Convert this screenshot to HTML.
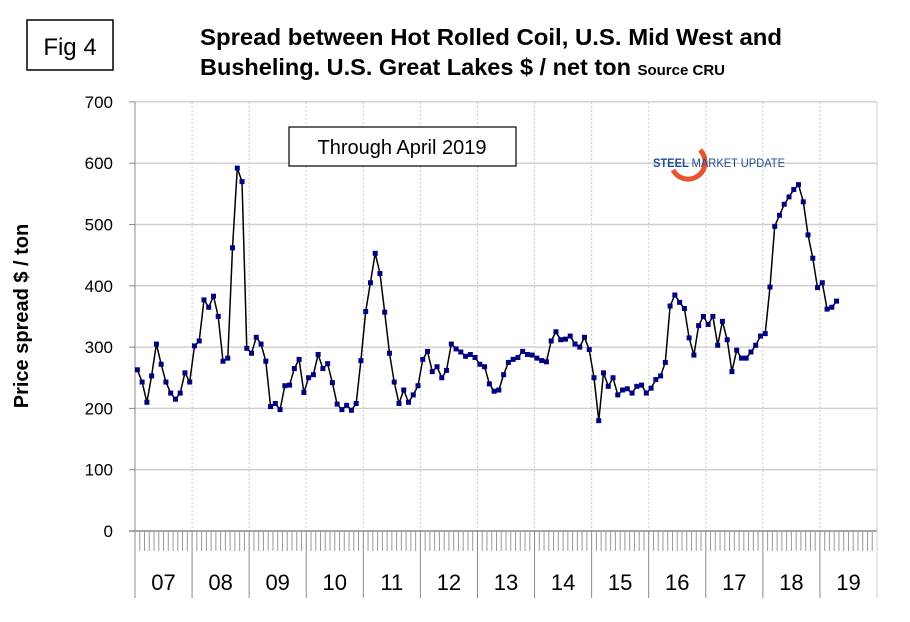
<!DOCTYPE html>
<html><head><style>
body{margin:0;background:#fff;}
svg{display:block;font-family:"Liberation Sans",Arial,sans-serif;}
</style></head><body>
<svg width="910" height="622" viewBox="0 0 910 622">
<rect width="910" height="622" fill="#fff"/>
<rect x="27" y="20" width="86" height="50" fill="#fff" stroke="#000" stroke-width="1.5"/>
<text x="70" y="55" font-size="24" text-anchor="middle">Fig 4</text>
<text x="491" y="45" font-size="23.5" font-weight="bold" text-anchor="middle" textLength="582" lengthAdjust="spacingAndGlyphs">Spread between Hot Rolled Coil, U.S. Mid West and</text>
<text x="200" y="75" font-size="23.5" font-weight="bold">Busheling. U.S. Great Lakes  $ / net ton <tspan font-size="15">Source CRU</tspan></text>
<g id="grid"></g>
<g id="axes"></g>
<text x="28" y="316" font-size="20" font-weight="bold" text-anchor="middle" transform="rotate(-90 28 316)">Price spread $ / ton</text>
<rect x="289" y="127" width="227" height="39" fill="#fff" stroke="#000" stroke-width="1.2"/>
<text x="402" y="154" font-size="20" text-anchor="middle">Through April 2019</text>
<path d="M673 170 A17 17 0 1 0 700 150" fill="none" stroke="#e4572e" stroke-width="5"/>
<text x="653" y="167" font-size="12" font-weight="bold" fill="#1f4e8c" textLength="132" lengthAdjust="spacingAndGlyphs">STEEL <tspan font-weight="normal">MARKET UPDATE</tspan></text>
<g id="series"></g>
<script>
var ns="http://www.w3.org/2000/svg";
function el(p,t,a,txt){var e=document.createElementNS(ns,t);for(var k in a)e.setAttribute(k,a[k]);if(txt!=null)e.textContent=txt;document.getElementById(p).appendChild(e);return e;}
var x0=135,x1=877,yb=531,k=0.613,yw=(x1-x0)/13;
for(var v=0;v<=700;v+=100){var y=yb-v*k;
 if(v>0)el("grid","line",{x1:x0,x2:x1,y1:y,y2:y,stroke:"#d0d0d0","stroke-width":1.5});
 el("axes","line",{x1:x0-6,x2:x0,y1:y,y2:y,stroke:"#888"});
 el("axes","text",{x:x0-22,y:y+6,"font-size":17,"text-anchor":"end"},v);}
for(var i=1;i<13;i++){var x=x0+i*yw;el("grid","line",{x1:x,x2:x,y1:102,y2:yb,stroke:"#ccc","stroke-dasharray":"2,2"});}
el("axes","line",{x1:x0,x2:x0,y1:102,y2:598,stroke:"#888","stroke-width":1});
el("axes","line",{x1:x0-6,x2:x1,y1:yb,y2:yb,stroke:"#888","stroke-width":1.5});
el("axes","line",{x1:x1,x2:x1,y1:102,y2:598,stroke:"#ccc"});
for(var m=1;m<156;m++){var x=x0+m*yw/12;if(m%12==0)el("axes","line",{x1:x,x2:x,y1:yb,y2:598,stroke:"#888"});else el("axes","line",{x1:x,x2:x,y1:yb,y2:551,stroke:"#999"});}
var yrs=["07","08","09","10","11","12","13","14","15","16","17","18","19"];
for(var i=0;i<13;i++)el("axes","text",{x:x0+(i+.5)*yw,y:590,"font-size":22,"text-anchor":"middle"},yrs[i]);
var d=[263,243,210,253,305,272,243,225,215,225,258,243,302,310,377,365,383,350,277,282,462,592,570,298,290,316,305,277,203,208,198,237,238,265,280,226,250,255,288,265,273,242,207,198,205,197,208,278,358,405,453,420,357,290,243,208,230,210,222,237,280,293,260,268,250,262,305,297,292,285,288,283,272,268,240,228,230,255,275,280,283,293,288,287,282,278,276,310,325,312,313,318,305,300,316,296,250,180,258,236,250,222,230,232,225,236,238,225,233,247,253,275,367,385,373,363,315,287,335,350,337,350,303,342,312,260,295,282,282,292,303,318,322,398,497,515,533,545,557,565,537,483,445,397,405,362,365,375];
var pts=d.map(function(v,i){return [x0+(i+.5)*yw/12,yb-v*k];});
el("series","polyline",{points:pts.map(function(p){return p[0].toFixed(1)+","+p[1].toFixed(1)}).join(" "),fill:"none",stroke:"#000","stroke-width":1.5});
pts.forEach(function(p){el("series","rect",{x:p[0]-2.5,y:p[1]-2.5,width:5,height:5,fill:"#000080"});});
</script>
</svg>
</body></html>
